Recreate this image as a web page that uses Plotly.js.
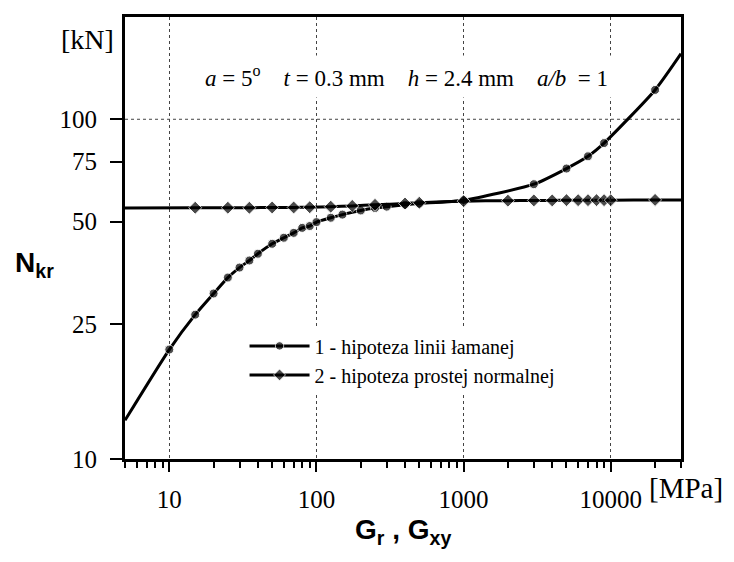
<!DOCTYPE html>
<html>
<head>
<meta charset="utf-8">
<script src="https://cdn.plot.ly/plotly-3.0.1.min.js"></script>
<style>html,body{margin:0;padding:0;background:#fff}#chart{width:734px;height:562px}</style>
</head>
<body>
<div id="chart"></div>
<script>
// Series 1: hipoteza linii łamanej
const s1Name = "1 - hipoteza linii łamanej";
const s1X = [5, 10, 15, 20, 25, 30, 35, 40, 50, 60, 70, 80, 90, 100, 125, 150, 200, 250, 300, 400, 500, 1000, 3000, 5000, 7000, 9000, 20000, 30000];
const s1Y = [13.0, 21.0, 26.6, 30.7, 34.2, 36.6, 38.4, 40.2, 43.0, 44.8, 46.3, 47.9, 48.5, 49.8, 51.3, 52.4, 53.9, 54.8, 55.3, 56.0, 56.5, 57.8, 64.4, 71.6, 77.8, 85.1, 122, 156];

// Series 2: hipoteza prostej normalnej
const s2Name = "2 - hipoteza prostej normalnej";
const s2X = [5, 15, 25, 35, 50, 70, 90, 125, 175, 250, 400, 500, 1000, 2000, 3000, 4000, 5000, 6000, 7000, 8000, 9000, 10000, 20000, 30000];
const s2Y = [54.8, 54.9, 54.9, 54.9, 55.0, 55.0, 55.1, 55.3, 55.6, 56.0, 56.5, 56.8, 57.4, 57.6, 57.7, 57.7, 57.8, 57.8, 57.8, 57.8, 57.8, 57.8, 57.9, 57.9];

// Axis ticks
const xTickVals = [10, 100, 1000, 10000];
const xTickText = ["10", "100", "1000", "10000"];
const yTickVals = [10, 25, 50, 75, 100];
const yTickText = ["10", "25", "50", "75", "100"];
const yGridVals = [100];

const serif = "Liberation Serif, Times New Roman, serif";
const sans = "Liberation Sans, Arial, sans-serif";

function endSizes(arr, s) { return arr.map((v, i) => (i === 0 || i === arr.length - 1) ? 0 : s); }

const traces = [
  {
    x: s1X, y: s1Y, name: s1Name, type: "scatter", mode: "lines+markers",
    line: {color: "#000", width: 3, shape: "spline", smoothing: 0.6},
    marker: {color: "#000", size: endSizes(s1X, 9), symbol: "circle"}
  },
  {
    x: s2X, y: s2Y, name: s2Name, type: "scatter", mode: "lines+markers",
    line: {color: "#000", width: 3, shape: "spline", smoothing: 0.6},
    marker: {color: "#000", size: endSizes(s2X, 10), symbol: "diamond"}
  }
];

const shapes = yGridVals.map(v => ({
  type: "line", xref: "paper", yref: "y", x0: 0, x1: 1, y0: v, y1: v,
  layer: "below", line: {color: "#444", width: 1, dash: "dot"}
}));

const layout = {
  width: 734, height: 562,
  margin: {l: 125, r: 53, t: 17, b: 103},
  paper_bgcolor: "#fff", plot_bgcolor: "#fff",
  showlegend: true,
  legend: {
    x: 0.215, y: 0.30, xanchor: "left", yanchor: "top",
    bgcolor: "#fff", borderwidth: 0,
    font: {family: serif, size: 20, color: "#000"},
    tracegroupgap: 0, itemwidth: 60
  },
  shapes: shapes,
  xaxis: {
    type: "log",
    range: [Math.log10(5), Math.log10(30000)],
    tickmode: "array", tickvals: xTickVals, ticktext: xTickText,
    ticks: "outside", ticklen: 10, tickwidth: 2, tickcolor: "#000",
    ticklabelstandoff: 6,
    minor: {ticks: "outside", ticklen: 6, tickwidth: 2, tickcolor: "#000", dtick: "D1", showgrid: false},
    showgrid: true, gridcolor: "#444", gridwidth: 1, griddash: "dot",
    showline: true, linecolor: "#000", linewidth: 3, mirror: true,
    zeroline: false,
    tickfont: {family: serif, size: 25, color: "#000"}
  },
  yaxis: {
    type: "log",
    range: [1, Math.log10(200)],
    tickmode: "array", tickvals: yTickVals, ticktext: yTickText,
    ticks: "outside", ticklen: 12, tickwidth: 2, tickcolor: "#000",
    ticklabelstandoff: 8,
    showgrid: false,
    showline: true, linecolor: "#000", linewidth: 3, mirror: true,
    zeroline: false,
    tickfont: {family: serif, size: 25, color: "#000"}
  },
  annotations: [
    {
      xref: "paper", yref: "paper", x: 0.507, y: 0.866, xanchor: "center", yanchor: "middle",
      text: "<i>a</i> = 5<sup>o</sup>    <i>t</i> = 0.3 mm    <i>h</i> = 2.4 mm    <i>a/b</i>  = 1",
      showarrow: false, bgcolor: "#fff", borderpad: 6,
      font: {family: serif, size: 23, color: "#000"}
    },
    {
      xref: "paper", yref: "paper", x: -0.068, y: 0.948, xanchor: "center", yanchor: "middle",
      text: "[kN]", showarrow: false,
      font: {family: serif, size: 28, color: "#000"}
    },
    {
      xref: "paper", yref: "paper", x: 1.009, y: -0.066, xanchor: "center", yanchor: "middle",
      text: "[MPa]", showarrow: false,
      font: {family: serif, size: 29, color: "#000"}
    },
    {
      xref: "paper", yref: "paper", x: -0.201, y: 0.44, xanchor: "left", yanchor: "middle",
      text: "<b>N<sub>kr</sub></b>", showarrow: false,
      font: {family: sans, size: 28, color: "#000"}
    },
    {
      xref: "paper", yref: "paper", x: 0.41, y: -0.165, xanchor: "left", yanchor: "middle",
      text: "<b>G<sub>r</sub> , G<sub>xy</sub></b>", showarrow: false,
      font: {family: sans, size: 28, color: "#000"}
    }
  ]
};

Plotly.newPlot("chart", traces, layout, {displayModeBar: false, staticPlot: true});
</script>
</body>
</html>
